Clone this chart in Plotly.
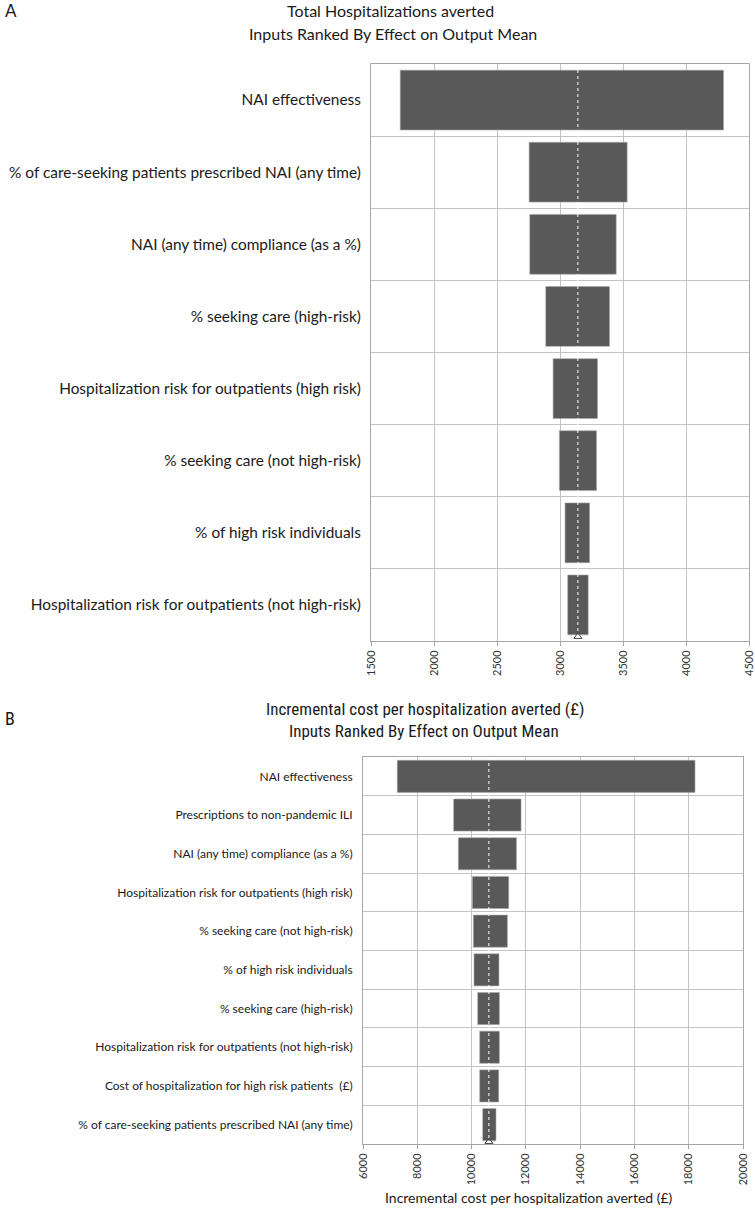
import plotly.graph_objects as go

# ---- Panel A data ----
a_labels = [
    "NAI effectiveness",
    "% of care-seeking patients prescribed NAI (any time)",
    "NAI (any time) compliance (as a %)",
    "% seeking care (high-risk)",
    "Hospitalization risk for outpatients (high risk)",
    "% seeking care (not high-risk)",
    "% of high risk individuals",
    "Hospitalization risk for outpatients (not high-risk)",
]
a_low = [1732, 2755, 2760, 2887, 2945, 2995, 3040, 3061]
a_high = [4298, 3533, 3446, 3393, 3298, 3290, 3235, 3224]
a_mean = 3142
a_ticks = [1500, 2000, 2500, 3000, 3500, 4000, 4500]

# ---- Panel B data ----
b_labels = [
    "NAI effectiveness",
    "Prescriptions to non-pandemic ILI",
    "NAI (any time) compliance (as a %)",
    "Hospitalization risk for outpatients (high risk)",
    "% seeking care (not high-risk)",
    "% of high risk individuals",
    "% seeking care (high-risk)",
    "Hospitalization risk for outpatients (not high-risk)",
    "Cost of hospitalization for high risk patients  (£)",
    "% of care-seeking patients prescribed NAI (any time)",
]
b_low = [7262, 9339, 9513, 10029, 10066, 10089, 10225, 10299, 10299, 10410]
b_high = [18232, 11823, 11653, 11369, 11320, 11009, 11025, 11025, 11000, 10900]
b_mean = 10638
b_ticks = [6000, 8000, 10000, 12000, 14000, 16000, 18000, 20000]

BAR = "#595959"
GRID = "#c3c3c3"
FONT = "Lato, Open Sans, sans-serif"
NARROW = "Liberation Sans Narrow, Arial Narrow, Roboto Condensed, Liberation Sans, sans-serif"

W, H = 755, 1208

fig = go.Figure()


def add_panel(labels, low, high, mean, xa, ya):
    n = len(labels)
    ys = list(range(n))
    fig.add_trace(go.Bar(
        y=ys, x=[h - l for l, h in zip(low, high)], base=low,
        orientation="h", width=0.83,
        marker=dict(color=BAR, line=dict(color="#aaaaaa", width=0.6)),
        xaxis=xa, yaxis=ya, showlegend=False, hoverinfo="skip",
    ))
    fig.add_trace(go.Scatter(
        x=[mean, mean], y=[-0.5, n - 0.5], mode="lines",
        line=dict(color="white", width=1, dash="dot"),
        xaxis=xa, yaxis=ya, showlegend=False, hoverinfo="skip",
    ))
    fig.add_trace(go.Scatter(
        x=[mean], y=[n - 0.5 - 0.06], mode="markers",
        marker=dict(symbol="triangle-up-open", size=7, color="#444444",
                    line=dict(width=1, color="#444444")),
        xaxis=xa, yaxis=ya, showlegend=False, hoverinfo="skip", cliponaxis=False,
    ))
    return n


na = add_panel(a_labels, a_low, a_high, a_mean, "x", "y")
nb = add_panel(b_labels, b_low, b_high, b_mean, "x2", "y2")

axis_common = dict(showgrid=True, gridcolor=GRID, gridwidth=1, zeroline=False,
                   showline=True, linecolor="#a6a6a6", linewidth=1, mirror=True,
                   ticks="outside", ticklen=4, tickcolor="#a6a6a6", tickangle=-90,
                   automargin=False, ticklabeloverflow="allow")

fig.update_layout(
    width=W, height=H, margin=dict(l=0, r=0, t=0, b=0),
    paper_bgcolor="white", plot_bgcolor="white",
    xaxis=dict(domain=[371 / W, 749 / W], range=[a_ticks[0], a_ticks[-1]],
               tickvals=a_ticks, ticktext=[str(v) for v in a_ticks], anchor="y",
               tickfont=dict(family=FONT, size=11, color="#333333"), **axis_common),
    yaxis=dict(domain=[(H - 641) / H, (H - 64) / H], range=[na - 0.5, -0.5],
               tickvals=list(range(na)), ticktext=a_labels, anchor="x",
               automargin=False,
               showgrid=False, zeroline=False, showline=True, mirror=True,
               linecolor="#a6a6a6", ticks="", ticklabelstandoff=6,
               tickfont=dict(family=FONT, size=15.4, color="#1a1a1a"),
               minor=dict(tickvals=[i + 0.5 for i in range(na - 1)], showgrid=True,
                          gridcolor=GRID, gridwidth=1, ticks="")),
    xaxis2=dict(domain=[363 / W, 743 / W], range=[b_ticks[0], b_ticks[-1]],
                tickvals=b_ticks, ticktext=[str(v) for v in b_ticks], anchor="y2",
                tickfont=dict(family=FONT, size=11, color="#333333"),
                **axis_common),
    yaxis2=dict(domain=[(H - 1144) / H, (H - 757) / H], range=[nb - 0.5, -0.5],
                tickvals=list(range(nb)), ticktext=b_labels, anchor="x2",
                automargin=False,
                showgrid=False, zeroline=False, showline=True, mirror=True,
                linecolor="#a6a6a6", ticks="", ticklabelstandoff=7,
                tickfont=dict(family=FONT, size=12, color="#1a1a1a"),
                minor=dict(tickvals=[i + 0.5 for i in range(nb - 1)], showgrid=True,
                           gridcolor=GRID, gridwidth=1, ticks="")),
)

ann = [
    dict(text="A", x=3 / W, y=1 - 11 / H, font=dict(family=FONT, size=17, color="#1a1a1a")),
    dict(text="Total Hospitalizations averted", x=390 / W, y=1 - 11 / H,
         font=dict(family=FONT, size=16, color="#1a1a1a"), xanchor="center"),
    dict(text="Inputs Ranked By Effect on Output Mean", x=393 / W, y=1 - 33 / H,
         font=dict(family=FONT, size=16, color="#1a1a1a"), xanchor="center"),
    dict(text="B", x=3 / W, y=1 - 718 / H, font=dict(family=NARROW, size=18, color="#1a1a1a")),
    dict(text="Incremental cost per hospitalization averted (£)", x=425 / W, y=1 - 709 / H,
         font=dict(family=NARROW, size=17, color="#1a1a1a"), xanchor="center"),
    dict(text="Inputs Ranked By Effect on Output Mean", x=424 / W, y=1 - 731 / H,
         font=dict(family=NARROW, size=17, color="#1a1a1a"), xanchor="center"),
    dict(text="Incremental cost per hospitalization averted (£)", x=529 / W, y=1 - 1197 / H,
         font=dict(family=FONT, size=14, color="#1a1a1a"), xanchor="center"),
]
for a in ann:
    a.setdefault("xanchor", "left")
    fig.add_annotation(xref="paper", yref="paper", yanchor="middle",
                       showarrow=False, **a)

fig.write_html("out.html", config={"displayModeBar": False},
               post_script="document.body.style.margin='0px';document.body.style.overflow='hidden';")
